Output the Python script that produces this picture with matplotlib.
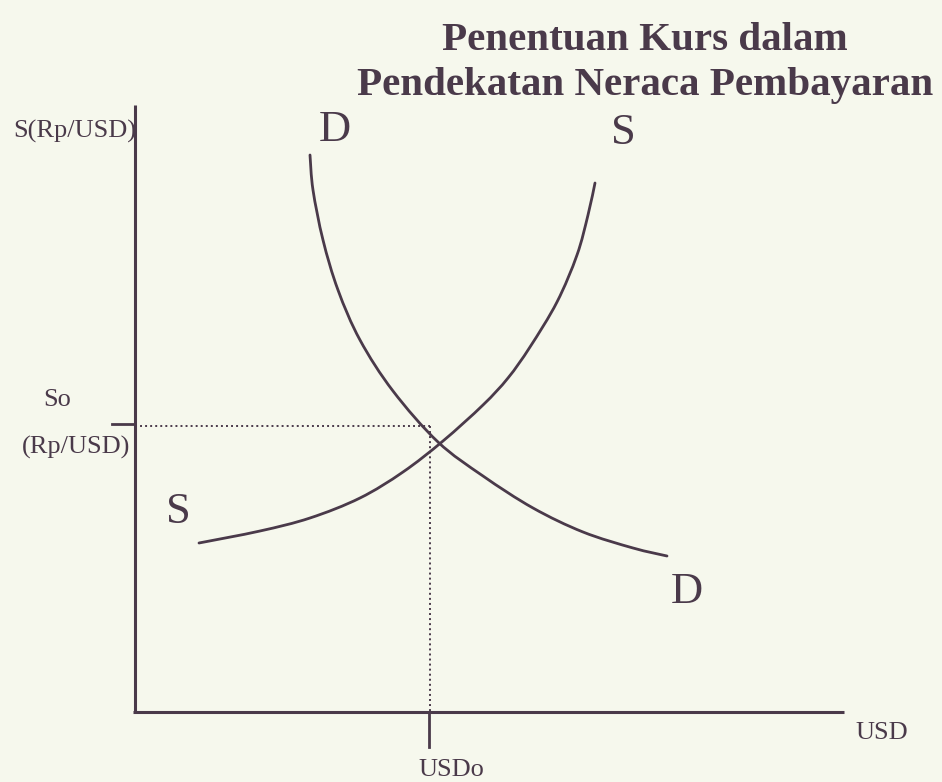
import matplotlib
matplotlib.use("Agg")
import matplotlib.pyplot as plt
from matplotlib.path import Path
from matplotlib.patches import PathPatch

# Demand curve (USD quantity, Rp/USD rate) in chart units, origin at the axis corner
demand_x = [177, 180, 190, 205, 227, 260, 305, 350, 400, 450, 500, 534]
demand_y = [557, 522, 472, 422, 372, 321, 270, 236, 204, 180, 164, 156]

# Supply curve
supply_x = [66, 127, 177, 227, 270, 310, 350, 375, 397, 424, 444, 455, 462]
supply_y = [169, 181, 194, 214, 240, 271, 307, 334, 365, 410, 457, 497, 529]

# Equilibrium markers and axis extents
usd0 = 297
s0 = 286
x_axis_end = 711
y_axis_top = 607

title_lines = ["Penentuan Kurs dalam", "Pendekatan Neraca Pembayaran"]
y_label = "S(Rp/USD)"
s0_labels = ["So", "(Rp/USD)"]
x_label = "USD"
usd0_label = "USDo"

ink = "#4a3a4a"
paper = "#f6f8ed"


def smooth_path(xs, ys):
    """Catmull-Rom spline through the points, expressed as cubic Bezier segments."""
    pts = list(zip(xs, ys))
    verts = [pts[0]]
    codes = [Path.MOVETO]
    n = len(pts)
    for i in range(n - 1):
        p0 = pts[i - 1] if i > 0 else pts[i]
        p1 = pts[i]
        p2 = pts[i + 1]
        p3 = pts[i + 2] if i + 2 < n else pts[i + 1]
        c1 = (p1[0] + (p2[0] - p0[0]) / 6, p1[1] + (p2[1] - p0[1]) / 6)
        c2 = (p2[0] - (p3[0] - p1[0]) / 6, p2[1] - (p3[1] - p1[1]) / 6)
        verts += [c1, c2, p2]
        codes += [Path.CURVE4] * 3
    return Path(verts, codes)


fig = plt.figure(figsize=(9.42, 7.82), dpi=100, facecolor=paper)
ax = fig.add_axes([0, 0, 1, 1])
ax.set_facecolor(paper)
ax.set_xlim(-133, 809)
ax.set_ylim(-70, 712)
ax.axis("off")

serif = ["Liberation Serif", "DejaVu Serif"]

# axes
ax.plot([2, 2], [0, y_axis_top], color=ink, lw=2.2, solid_capstyle="butt")
ax.plot([0, x_axis_end], [0, 0], color=ink, lw=2.2, solid_capstyle="butt")

# ticks at the equilibrium values
ax.plot([-21, 2], [s0 + 2, s0 + 2], color=ink, lw=2.0)
ax.plot([usd0 - 1, usd0 - 1], [0, -35], color=ink, lw=2.0)

# dotted guides
ax.plot([2, usd0], [s0, s0], color=ink, lw=1.4, linestyle=(0, (1, 1.6)))
ax.plot([usd0, usd0], [s0, 0], color=ink, lw=1.4, linestyle=(0, (1, 1.6)))

# curves
for xs, ys in [(demand_x, demand_y), (supply_x, supply_y)]:
    ax.add_patch(PathPatch(smooth_path(xs, ys), facecolor="none", edgecolor=ink,
                           lw=2.0, capstyle="round"))

# curve labels
for txt, x, y in [("D", 202, 582), ("S", 490, 579), ("S", 45, 200), ("D", 554, 120)]:
    ax.text(x, y, txt, fontsize=32, family=serif, color=ink, ha="center", va="center")

# axis labels
ax.text(-120, 581, y_label, fontsize=19, family=serif, color=ink, ha="left", va="center")
ax.text(-76, 312, s0_labels[0], fontsize=19, family=serif, color=ink, ha="center", va="center")
ax.text(-111, 265, s0_labels[1], fontsize=19, family=serif, color=ink, ha="left", va="center")
ax.text(285, -58, usd0_label, fontsize=19, family=serif, color=ink, ha="left", va="center")
ax.text(722, -21, x_label, fontsize=19, family=serif, color=ink, ha="left", va="center")

# title
ax.text(512, 672, title_lines[0], fontsize=29.5, family=serif, weight="bold",
        color=ink, ha="center", va="center")
ax.text(512, 626, title_lines[1], fontsize=29.5, family=serif, weight="bold",
        color=ink, ha="center", va="center")

fig.savefig("out.png", dpi=100, facecolor=paper)
